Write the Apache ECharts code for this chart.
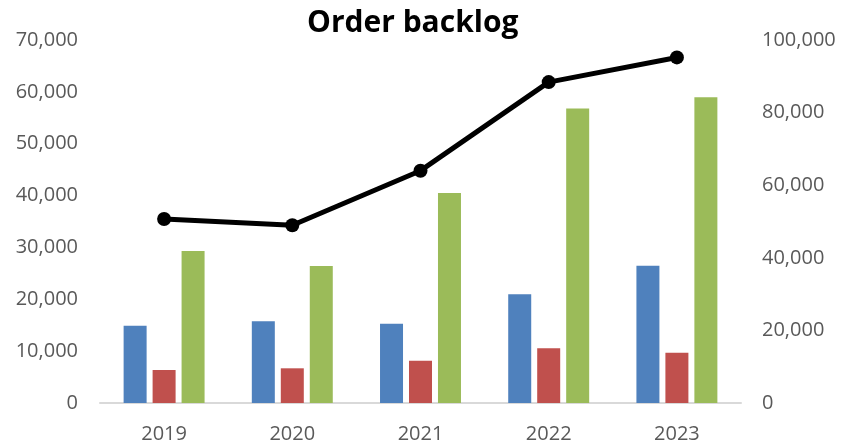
<!DOCTYPE html>
<html>
<head>
<meta charset="utf-8">
<script src="https://cdn.jsdelivr.net/npm/echarts@6/dist/echarts.min.js"></script>
<style>
  html, body { margin: 0; padding: 0; background: #fff; }
  #chart { width: 846px; height: 442px; }
</style>
</head>
<body>
<div id="chart"></div>
<script>
// data
const years = ['2019', '2020', '2021', '2022', '2023']
const blueBars = [14900, 15750, 15300, 20950, 26480]
const redBars = [6360, 6690, 8160, 10550, 9700]
const greenBars = [29300, 26400, 40500, 56800, 58950]
const backlogLine = [50700, 48950, 64000, 88400, 95200]

const labelFont = { color: '#595959', fontSize: 20, fontFamily: 'Open Sans' }
const fmt = v => v.toLocaleString('en-US')

const chart = echarts.init(document.getElementById('chart'))

const option = {
  animation: false,
  backgroundColor: '#fff',
  title: {
    text: 'Order backlog',
    left: 302,
    top: 3,
    textStyle: { fontFamily: 'Open Sans', fontWeight: 'bold', fontSize: 30, color: '#000' }
  },
  grid: { left: 100, right: 105, top: 40, bottom: 39, outerBoundsMode: 'none' },
  xAxis: {
    type: 'category',
    data: years,
    axisLine: { lineStyle: { color: '#d9d9d9', width: 2 } },
    axisTick: { show: false },
    axisLabel: { ...labelFont, margin: 21 }
  },
  yAxis: [
    {
      type: 'value', min: 0, max: 70000, interval: 10000,
      splitLine: { show: false },
      axisLine: { show: false },
      axisLabel: { ...labelFont, margin: 22, formatter: fmt }
    },
    {
      type: 'value', min: 0, max: 100000, interval: 20000,
      splitLine: { show: false },
      axisLine: { show: false },
      axisLabel: { ...labelFont, margin: 21, formatter: fmt }
    }
  ],
  series: [
    { name: 'Series 1', type: 'bar', data: blueBars, barWidth: 23, barGap: '26%',
      itemStyle: { color: '#4F81BD' } },
    { name: 'Series 2', type: 'bar', data: redBars, barWidth: 23, barGap: '26%',
      itemStyle: { color: '#C0504D' } },
    { name: 'Series 3', type: 'bar', data: greenBars, barWidth: 23, barGap: '26%',
      itemStyle: { color: '#9BBB59' } },
    { name: 'Backlog', type: 'line', yAxisIndex: 1, data: backlogLine,
      symbol: 'circle', symbolSize: 14,
      lineStyle: { color: '#000', width: 5 },
      itemStyle: { color: '#000' } }
  ]
}

chart.setOption(option)
window.addEventListener('resize', () => { chart.resize() })
</script>
</body>
</html>
